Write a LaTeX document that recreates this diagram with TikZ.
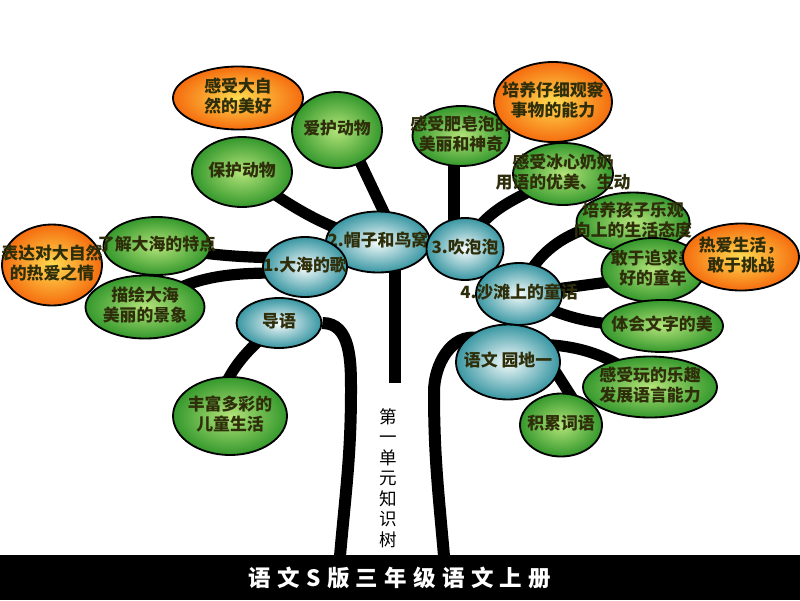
\documentclass[tikz,border=0pt]{standalone}
\usepackage{fontspec}
\newfontfamily\cjk{Noto Sans CJK SC}
\usepackage{xcolor}
\usepackage{tikz}
\usetikzlibrary{
  shapes.geometric,
  calc,
  backgrounds
}

\definecolor{leafin}{HTML}{B4E47A}
\definecolor{leafout}{HTML}{34982C}
\definecolor{goalin}{HTML}{FFDC50}
\definecolor{goalout}{HTML}{F56C0E}
\definecolor{lessonin}{HTML}{F6FCFC}
\definecolor{lessonout}{HTML}{3896A2}
\definecolor{txt}{HTML}{2E2E0A}

% text of a bubble, kept out of its size
\newcommand{\lbl}[1]{\makebox[0pt]{\begin{tabular}{@{}c@{}}#1\end{tabular}}}
\newcommand{\ks}{\hspace{4.5pt}}

\begin{document}
\begin{tikzpicture}[
      x=0.025cm, y=-0.025cm,
      wh/.style 2 args={minimum width=#1*0.025cm, minimum height=#2*0.025cm},
      bubble/.style={ellipse, draw=black, line width=1.3pt, inner sep=0pt, text=txt,
                     font=\cjk\bfseries\fontsize{12}{12.8}\selectfont},
      leaf/.style={bubble, inner color=leafin, outer color=leafout},
      goal/.style={bubble, inner color=goalin, outer color=goalout},
      lesson/.style={bubble, inner color=lessonin, outer color=lessonout},
      branch/.style={line width=0.28cm, line cap=round},
      trunk/.style={line width=0.3cm}
    ]
      \useasboundingbox (0,0) rectangle (800,600);

      % Lessons
      \node[lesson, wh={104}{61}] (mao) at (378,242) {\lbl{2.帽子和鸟窝}};
      \node[lesson, wh={84}{60}] (hai) at (305,267) {\lbl{1.大海的歌}};
      \node[lesson, wh={77}{62}] (pao) at (465,249) {\lbl{3.吹泡泡}};
      \node[lesson, wh={86}{62}] (sha) at (519,294) {\lbl{4.沙滩上的童话}};
      \node[lesson, wh={85}{50}] (dao) at (279,323) {\lbl{导语}};
      \node[lesson, wh={104}{75}] (yuan) at (508,362) {\lbl{语文 园地一}};

      % Left leaves
      \node[goal, wh={130}{63}] (zi) at (238,98) {\lbl{感受大自\\然的美好}};
      \node[leaf, wh={90}{76}] (ai) at (337,130) {\lbl{爱护动物}};
      \node[leaf, wh={100}{70}] (bao) at (242,172) {\lbl{保护动物}};
      \node[leaf, wh={107}{58}] (liao) at (157,246) {\lbl{了解大海的特点}};
      \node[goal, wh={100}{81}] (biao) at (52,265) {\lbl{表达对大自然\\的热爱之情}};
      \node[leaf, wh={119}{63}] (miao) at (145,307) {\lbl{描绘大海\\美丽的景象}};
      \node[leaf, wh={114}{78}] (feng) at (230,416) {\lbl{丰富多彩的\\儿童生活}};

      % Right leaves
      \node[leaf, wh={97}{60}] (fei) at (461,136) {\lbl{感受肥皂泡的\\美丽和神奇}};
      \node[goal, wh={118}{80}] (guan) at (553,102) {\lbl{培养仔细观察\\事物的能力}};
      \node[leaf, wh={100}{62}] (bing) at (563,174) {\lbl{感受冰心奶奶\\用语的优美、生动}};
      \node[leaf, wh={113}{59}] (le) at (633,222) {\lbl{培养孩子乐观\\向上的生活态度}};
      \node[leaf, wh={103}{64}] (gan) at (653,270) {\lbl{敢于追求美\\好的童年}};
      \node[goal, wh={116}{67}] (re) at (741,257) {\lbl{热爱生活，\\敢于挑战}};
      \node[leaf, wh={122}{52}] (ti) at (662,326) {\lbl{体会文字的美}};
      \node[leaf, wh={82}{63}] (ji) at (561,425) {\lbl{积累词语}};
      \node[leaf, wh={134}{61}] (wan) at (650,387) {\lbl{感受玩的乐趣\\发展语言能力}};

      % Title
      \node[font=\cjk\fontsize{12.5}{14.6}\selectfont, align=center] (unit) at (388,478)
        {第\\一\\单\\元\\知\\识\\树};
      \node[fill=black, wh={800}{45}, inner sep=0pt, text=white,
            font=\cjk\bfseries\fontsize{16}{16}\selectfont] (bar) at (400,577.5)
        {语\ks 文\ks S\ks 版\ks 三\ks 年\ks 级\ks 语\ks 文\ks 上\ks 册};

      \coordinate (stem) at (395,383);
      \coordinate (lbend) at (351,390);
      \coordinate (lroot) at (340,556);
      \coordinate (rbend) at (434,392);
      \coordinate (rroot) at (444,556);

      \begin{scope}[on background layer]
        \fill[white] (0,0) rectangle (800,600);

        % Trunks
        \draw[trunk] (mao.center -| stem) -- (stem);
        \draw[trunk] (dao.east) to[out=0,in=90] (lbend) to[out=-90,in=85] (lroot);
        \draw[trunk] ($(yuan.center)+(-30,-24)$) to[out=170,in=90] (rbend) to[out=-90,in=95] (rroot);

        % Branches
        \draw[branch] (bao.center) to[out=-35,in=165] (mao.center);
        \draw[branch] ($(ai.center)+(8,0)$) -- ($(mao.center)+(20,0)$);
        \draw[branch] (liao.center) to[out=-10,in=180] ($(hai.center)+(0,-9)$);
        \draw[branch] (miao.center) to[out=35,in=180] ($(hai.center)+(0,6)$);
        \draw[branch] (dao.center) to[out=-140,in=80] ($(feng.center)+(-14,0)$);
        \draw[branch] ($(fei.center)+(-7,0)$) -- ($(pao.center)+(-11,0)$);
        \draw[branch] (bing.center) to[out=-150,in=65] (pao.center);
        \draw[branch] (le.center) to[out=180,in=70] (sha.center);
        \draw[branch] ($(gan.center)+(0,6)$) -- (sha.center);
        \draw[branch] (sha.center) to[out=-30,in=180] (ti.center);
        \draw[branch] ($(yuan.center)+(20,-18)$) to[out=0,in=140] (wan.center);
        \draw[branch] ($(yuan.center)+(40,-2)$) -- ($(ji.center)+(19,-15)$);
      \end{scope}
    \end{tikzpicture}
\end{document}
